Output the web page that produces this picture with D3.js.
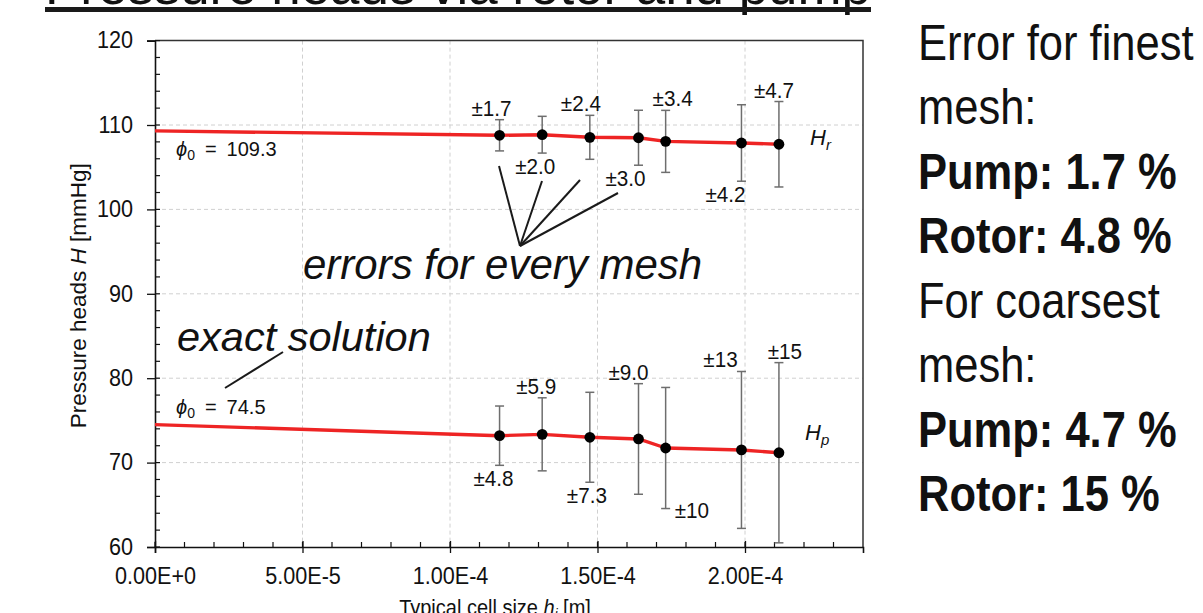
<!DOCTYPE html>
<html>
<head>
<meta charset="utf-8">
<script src="https://cdn.jsdelivr.net/npm/d3@7"></script>
<style>
  html, body { margin: 0; padding: 0; background: #fff; }
  svg { display: block; }
  text { font-family: "Liberation Sans", Arial, sans-serif; fill: #111; }
</style>
</head>
<body>
<svg id="chart" width="1203" height="613"></svg>
<script>
// Grid-convergence data: typical cell size of each mesh and the computed heads
const cellSize   = [1.168e-4, 1.3125e-4, 1.474e-4, 1.639e-4, 1.731e-4, 1.988e-4, 2.115e-4];
const headR      = [108.78, 108.85, 108.54, 108.49, 108.06, 107.87, 107.72];
const errR       = [1.7, 2.0, 2.4, 3.0, 3.4, 4.2, 4.7];      // relative error, %
const headP      = [73.19, 73.35, 73.00, 72.80, 71.73, 71.50, 71.17];
const errP       = [4.8, 5.9, 7.3, 9.0, 10, 13, 15];          // relative error, %
const exactR     = 109.3;   // Richardson-extrapolated value, H_r
const exactP     = 74.5;    // Richardson-extrapolated value, H_p
const xTicks     = [0, 5e-5, 1e-4, 1.5e-4, 2e-4];
const xTickText  = ["0.00E+0", "5.00E-5", "1.00E-4", "1.50E-4", "2.00E-4"];
const yTicks     = [60, 70, 80, 90, 100, 110, 120];
const notesLines = [
  ["Error for finest", false], ["mesh:", false],
  ["Pump: 1.7 %", true], ["Rotor: 4.8 %", true],
  ["For coarsest", false], ["mesh:", false],
  ["Pump: 4.7 %", true], ["Rotor: 15 %", true]
];

// layout of the error labels: side of the bar and horizontal nudge (px)
const labelLayoutR = [["up", -8], ["down", -7], ["up", -9], ["down", -13], ["up", 7], ["down", -16], ["up", -5]];
const labelLayoutP = [["down", -6], ["up", -6], ["down", -3], ["up", -10], ["right", 0], ["up", -21], ["up", 6]];

const svg = d3.select("#chart");
const M = { left: 155, right: 863, top: 40.6, bottom: 547 };

const x = d3.scaleLinear().domain([0, 2.4e-4]).range([M.left, M.right]);
const y = d3.scaleLinear().domain([60, 120]).range([M.bottom, M.top]);

// narrow a text horizontally about its own anchor point
function squeeze(sel, s) {
  sel.each(function () {
    const t = d3.select(this);
    const tx = +t.attr("x") || 0, ty = +t.attr("y") || 0;
    t.attr("x", 0).attr("y", 0).attr("transform", `translate(${tx},${ty}) scale(${s},1)`);
  });
}

// ---- title (runs off the top edge) ----
svg.append("text")
  .attr("x", 45).attr("y", 4)
  .attr("font-size", 54)
  .attr("textLength", 826).attr("lengthAdjust", "spacingAndGlyphs")
  .text("Pressure heads via rotor and pump");
svg.append("rect").attr("x", 45).attr("y", 7).attr("width", 826).attr("height", 5).attr("fill", "#1a1a1a");

// ---- grid ----
const grid = svg.append("g").attr("stroke", "#d0d0d0").attr("stroke-width", 1).attr("stroke-dasharray", "4,3");
grid.selectAll("line.v").data(xTicks.slice(1)).join("line")
  .attr("x1", d => x(d)).attr("x2", d => x(d)).attr("y1", M.top).attr("y2", M.bottom);
grid.selectAll("line.h").data(yTicks.slice(1, -1)).join("line")
  .attr("x1", M.left).attr("x2", M.right).attr("y1", d => y(d)).attr("y2", d => y(d));

// frame: top and right
svg.append("path")
  .attr("d", `M${M.left},${M.top}H${M.right}V${M.bottom}`)
  .attr("fill", "none").attr("stroke", "#333").attr("stroke-width", 1.5);

// ---- axes ----
const yAxis = d3.axisLeft(y).tickValues(yTicks).tickSize(8).tickPadding(14).tickFormat(d3.format("d"));
const gy = svg.append("g").attr("transform", `translate(${M.left},0)`).call(yAxis);
gy.select(".domain").attr("stroke", "#111").attr("stroke-width", 1.6);
gy.selectAll(".tick line").attr("stroke", "#111").attr("stroke-width", 1.3);
gy.selectAll(".tick text").attr("font-size", 23).attr("fill", "#111")
  .attr("font-family", "Liberation Sans, Arial, sans-serif").call(squeeze, 0.94);
// minor y ticks every 2 units, inside
gy.selectAll("line.minor").data(d3.range(60, 121, 2)).join("line")
  .attr("x1", 0).attr("x2", 5).attr("y1", d => y(d)).attr("y2", d => y(d))
  .attr("stroke", "#111").attr("stroke-width", 1.2);

const xAxis = d3.axisBottom(x).tickValues(xTicks).tickSize(6).tickPadding(15)
  .tickFormat((d, i) => xTickText[i]);
const gx = svg.append("g").attr("transform", `translate(0,${M.bottom})`).call(xAxis);
gx.select(".domain").attr("stroke", "#111").attr("stroke-width", 1.6);
gx.selectAll(".tick line").attr("stroke", "#111").attr("stroke-width", 1.3).attr("y1", -6);
gx.selectAll(".tick text").attr("font-size", 23).attr("fill", "#111")
  .attr("font-family", "Liberation Sans, Arial, sans-serif").call(squeeze, 0.94);
// minor x ticks every 1e-5, inside
gx.selectAll("line.minor").data(d3.range(0, 24).map(i => i * 1e-5)).join("line")
  .attr("x1", d => x(d)).attr("x2", d => x(d)).attr("y1", 0).attr("y2", -5)
  .attr("stroke", "#111").attr("stroke-width", 1.2);

// axis titles
svg.append("text")
  .attr("transform", `translate(86,${(M.top + M.bottom) / 2 + 2}) rotate(-90)`)
  .attr("text-anchor", "middle").attr("font-size", 22.5)
  .call(t => {
    t.append("tspan").text("Pressure heads ");
    t.append("tspan").attr("font-style", "italic").text("H");
    t.append("tspan").text(" [mmHg]");
  });
svg.append("text")
  .attr("x", 495).attr("y", 615).attr("text-anchor", "middle").attr("font-size", 21.5)
  .call(t => {
    t.append("tspan").text("Typical cell size ");
    t.append("tspan").attr("font-style", "italic").text("h");
    t.append("tspan").attr("font-style", "italic").attr("font-size", 14).attr("dy", 4).text("i");
    t.append("tspan").attr("dy", -4).text(" [m]");
  })
  .call(squeeze, 0.93);

// ---- fitted lines from the exact value through each mesh ----
const line = d3.line().x(d => x(d[0])).y(d => y(d[1]));
function series(head, exact) {
  return [[0, exact]].concat(cellSize.map((h, i) => [h, head[i]]));
}
[[headR, exactR], [headP, exactP]].forEach(([head, ex]) => {
  svg.append("path").datum(series(head, ex))
    .attr("d", line).attr("fill", "none")
    .attr("stroke", "#ee2424").attr("stroke-width", 3.4).attr("stroke-linejoin", "round");
});

// ---- error bars, points and labels ----
const fmtErr = v => "±" + (v >= 10 ? d3.format("d")(v) : d3.format(".1f")(v));
function drawSeries(head, err, layout) {
  const rows = cellSize.map((h, i) => ({ h, v: head[i], e: err[i], half: head[i] * err[i] / 100, lay: layout[i] }));
  const g = svg.append("g");
  const bars = g.selectAll("g.bar").data(rows).join("g").attr("stroke", "#6e6e6e").attr("stroke-width", 1.5);
  bars.append("line").attr("x1", d => x(d.h)).attr("x2", d => x(d.h))
    .attr("y1", d => y(d.v + d.half)).attr("y2", d => y(d.v - d.half));
  bars.append("line").attr("x1", d => x(d.h) - 4.5).attr("x2", d => x(d.h) + 4.5)
    .attr("y1", d => y(d.v + d.half)).attr("y2", d => y(d.v + d.half));
  bars.append("line").attr("x1", d => x(d.h) - 4.5).attr("x2", d => x(d.h) + 4.5)
    .attr("y1", d => y(d.v - d.half)).attr("y2", d => y(d.v - d.half));
  g.selectAll("circle").data(rows).join("circle")
    .attr("cx", d => x(d.h)).attr("cy", d => y(d.v)).attr("r", 5.4).attr("fill", "#000");
  g.selectAll("text").data(rows).join("text")
    .attr("font-size", 22).attr("text-anchor", d => d.lay[0] === "right" ? "start" : "middle")
    .attr("x", d => x(d.h) + (d.lay[0] === "right" ? 9 : d.lay[1]))
    .attr("y", d => d.lay[0] === "up" ? y(d.v + d.half) - 4
                  : d.lay[0] === "down" ? y(d.v - d.half) + 21
                  : y(d.v - d.half) + 9)
    .text(d => fmtErr(d.e))
    .call(squeeze, 0.94);
}
drawSeries(headR, errR, labelLayoutR);
drawSeries(headP, errP, labelLayoutP);

// series names
function seriesName(xp, yp, sub) {
  const t = svg.append("text").attr("x", xp).attr("y", yp).attr("font-size", 22).attr("font-style", "italic");
  t.append("tspan").text("H");
  t.append("tspan").attr("font-size", 15).attr("dy", 5).text(sub);
}
seriesName(810, 145, "r");
seriesName(805, 440, "p");

// exact-solution values
function phiLabel(xp, yp, val) {
  const t = svg.append("text").attr("x", xp).attr("y", yp).attr("font-size", 20)
    .attr("font-family", "Liberation Serif, DejaVu Serif, serif");
  t.append("tspan").attr("font-style", "italic").text("ϕ");
  t.append("tspan").attr("font-size", 14).attr("dy", 4).text("0");
  t.append("tspan").attr("dy", -4).text("\u2002=\u2002" + val);
}
phiLabel(176, 156, d3.format(".1f")(exactR));
phiLabel(176, 414, d3.format(".1f")(exactP));

// ---- callouts ----
const ann = svg.append("g").attr("stroke", "#1a1a1a").attr("stroke-width", 2);
[[499, 166], [542, 181], [580, 180], [618, 193]].forEach(([ex, ey]) => {
  ann.append("line").attr("x1", 520).attr("y1", 246).attr("x2", ex).attr("y2", ey);
});
ann.append("line").attr("x1", 225).attr("y1", 388).attr("x2", 283).attr("y2", 352);

svg.append("text").attr("x", 303).attr("y", 279).attr("font-size", 42).attr("font-style", "italic")
  .attr("fill", "#1a1a1a").text("errors for every mesh");
svg.append("text").attr("x", 177).attr("y", 351).attr("font-size", 41.5).attr("font-style", "italic")
  .attr("fill", "#1a1a1a").text("exact solution");

// ---- side notes ----
const notes = svg.append("g").attr("transform", "translate(918,0) scale(0.87,1)");
notes.selectAll("text").data(notesLines).join("text")
  .attr("x", 0).attr("y", (d, i) => 60 + i * 64.5)
  .attr("font-size", 50).attr("font-weight", d => d[1] ? "bold" : "normal")
  .text(d => d[0]);
</script>
</body>
</html>
